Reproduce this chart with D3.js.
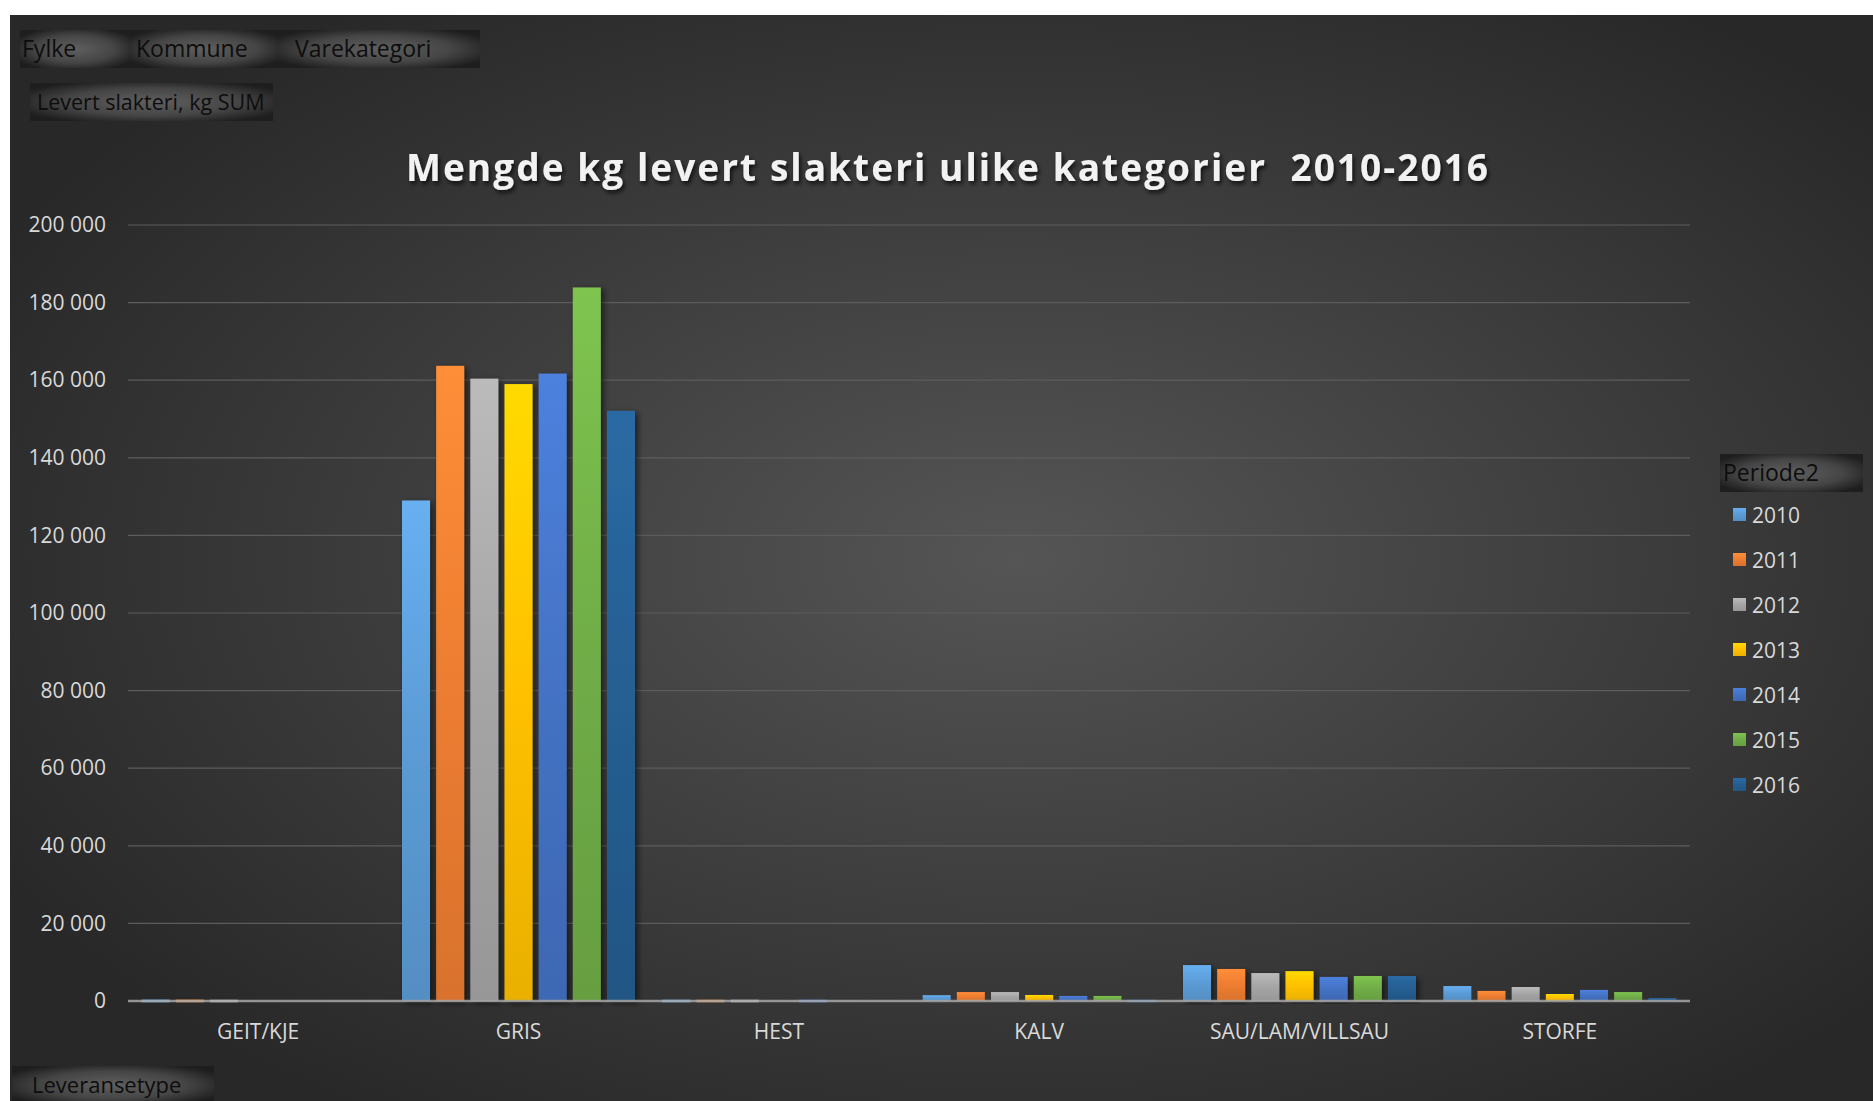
<!DOCTYPE html>
<html>
<head>
<meta charset="utf-8">
<script src="https://cdn.jsdelivr.net/npm/d3@7"></script>
<style>
  html, body { margin: 0; padding: 0; background: #fff; overflow: hidden; }
  svg { display: block; font-family: "Open Sans", "Liberation Sans", sans-serif; }
</style>
</head>
<body>
<div id="chart"></div>
<script>
// Chart data.
const categories = ["GEIT/KJE", "GRIS", "HEST", "KALV", "SAU/LAM/VILLSAU", "STORFE"];
const years = ["2010", "2011", "2012", "2013", "2014", "2015", "2016"];
const values2010 = [300, 129000, 250, 1500, 9250, 3850];
const values2011 = [300, 163700, 200, 2300, 8250, 2600];
const values2012 = [250, 160400, 150, 2300, 7200, 3600];
const values2013 = [0, 159000, 0, 1550, 7700, 1800];
const values2014 = [0, 161700, 150, 1300, 6200, 2850];
const values2015 = [0, 183900, 0, 1300, 6450, 2300];
const values2016 = [0, 152100, 0, 250, 6450, 750];
const yTicks = [0, 20000, 40000, 60000, 80000, 100000, 120000, 140000, 160000, 180000, 200000];

const seriesValues = [values2010, values2011, values2012, values2013, values2014, values2015, values2016];
const colors = ["#5B9BD5", "#ED7D31", "#A5A5A5", "#FFC000", "#4472C4", "#70AD47", "#255E91"];

// Dimensions.
const W = 1873, H = 1101;
const plot = { left: 128, right: 1690, top: 225, bottom: 1001 };

const svg = d3.select("#chart").append("svg")
  .attr("width", W)
  .attr("height", H);

const defs = svg.append("defs");

// Background gradient.
const bg = defs.append("radialGradient")
  .attr("id", "bg")
  .attr("cx", "0.54").attr("cy", "0.5").attr("r", "0.62");
bg.append("stop").attr("offset", "0").attr("stop-color", "#555555");
bg.append("stop").attr("offset", "1").attr("stop-color", "#282828");

// Button gradient: dark edges, lighter middle.
const btn = defs.append("radialGradient")
  .attr("id", "btn")
  .attr("cx", "0.5").attr("cy", "0.5").attr("r", "0.6");
btn.append("stop").attr("offset", "0").attr("stop-color", "#5f5f5f");
btn.append("stop").attr("offset", "0.6").attr("stop-color", "#454545");
btn.append("stop").attr("offset", "1").attr("stop-color", "#1e1e1e");

// Bar gradients, lighter on top.
colors.forEach((c, i) => {
  const g = defs.append("linearGradient")
    .attr("id", "bar" + i)
    .attr("x1", 0).attr("y1", 0).attr("x2", 0).attr("y2", 1);
  g.append("stop").attr("offset", "0").attr("stop-color", d3.color(c).brighter(0.35));
  g.append("stop").attr("offset", "0.5").attr("stop-color", c);
  g.append("stop").attr("offset", "1").attr("stop-color", d3.color(c).darker(0.25));
});

// Shadow for bars.
const shadow = defs.append("filter")
  .attr("id", "shadow")
  .attr("x", "-20%").attr("y", "-5%").attr("width", "160%").attr("height", "115%");
shadow.append("feDropShadow")
  .attr("dx", 3).attr("dy", 2).attr("stdDeviation", 3)
  .attr("flood-color", "#000").attr("flood-opacity", 0.55);

const titleShadow = defs.append("filter").attr("id", "tshadow");
titleShadow.append("feDropShadow")
  .attr("dx", 2).attr("dy", 3).attr("stdDeviation", 2)
  .attr("flood-color", "#000").attr("flood-opacity", 0.7);

svg.append("rect")
  .attr("x", 10).attr("y", 15)
  .attr("width", W - 10).attr("height", H - 15)
  .attr("fill", "url(#bg)");

// Scales.
const y = d3.scaleLinear().domain([0, 200000]).range([plot.bottom, plot.top]);
const x0 = d3.scaleBand().domain(categories).range([plot.left, plot.right]);
const groupW = x0.bandwidth() * 0.895;
const x1 = d3.scaleBand().domain(years).range([0, groupW]).paddingInner(0.18);

// Gridlines.
svg.append("g")
  .selectAll("line")
  .data(yTicks.filter(d => d > 0))
  .join("line")
  .attr("x1", plot.left).attr("x2", plot.right)
  .attr("y1", d => y(d)).attr("y2", d => y(d))
  .attr("stroke", "#5c5c5c")
  .attr("stroke-width", 1.2);

// Y axis labels.
const fmt = d => d3.format(",")(d).replace(/,/g, " ");
const yAxis = svg.append("g")
  .attr("transform", `translate(${plot.left},0)`)
  .call(d3.axisLeft(y).tickValues(yTicks).tickFormat(fmt).tickSize(0).tickPadding(22));
yAxis.select(".domain").remove();
yAxis.selectAll("text")
  .attr("fill", "#d9d9d9")
  .style("font-size", "21px")
  .style("font-family", "'Open Sans', sans-serif");

// Bars.
const groups = svg.append("g")
  .selectAll("g")
  .data(categories)
  .join("g")
  .attr("transform", d => `translate(${x0(d) + (x0.bandwidth() - groupW) / 2},0)`);

groups.selectAll("rect")
  .data((d, ci) => years.map((yr, si) => ({ yr, si, v: seriesValues[si][ci] })))
  .join("rect")
  .attr("x", d => x1(d.yr))
  .attr("width", x1.bandwidth())
  .attr("y", d => y(d.v))
  .attr("height", d => plot.bottom - y(d.v))
  .attr("fill", d => `url(#bar${d.si})`)
  .attr("filter", d => d.v > 5000 ? "url(#shadow)" : null);

// Baseline.
svg.append("line")
  .attr("x1", plot.left).attr("x2", plot.right)
  .attr("y1", plot.bottom).attr("y2", plot.bottom)
  .attr("stroke", "#a6a6a6")
  .attr("stroke-opacity", 0.85)
  .attr("stroke-width", 2.5);

// Tiny value marks on the baseline.
groups.selectAll("line.tiny")
  .data((d, ci) => years.map((yr, si) => ({ yr, si, v: seriesValues[si][ci] })).filter(d => d.v > 0 && d.v < 600))
  .join("line")
  .attr("class", "tiny")
  .attr("x1", d => x1(d.yr)).attr("x2", d => x1(d.yr) + x1.bandwidth())
  .attr("y1", plot.bottom).attr("y2", plot.bottom)
  .attr("stroke", d => d3.color(colors[d.si]).brighter(0.6))
  .attr("stroke-width", 2.5);

// X axis labels.
const xAxis = svg.append("g")
  .attr("transform", `translate(0,${plot.bottom})`)
  .call(d3.axisBottom(x0).tickSize(0).tickPadding(23));
xAxis.select(".domain").remove();
xAxis.selectAll("text")
  .attr("fill", "#d9d9d9")
  .style("font-size", "21px")
  .style("font-family", "'Open Sans', sans-serif");

// Title.
svg.append("text")
  .attr("x", 947).attr("y", 181)
  .attr("text-anchor", "middle")
  .attr("fill", "#f2f2f2")
  .attr("filter", "url(#tshadow)")
  .attr("xml:space", "preserve")
  .attr("textLength", 1082)
  .attr("lengthAdjust", "spacing")
  .style("white-space", "pre")
  .style("font-size", "37px")
  .style("font-weight", "bold")
  .style("font-family", "'Open Sans', sans-serif")
  .text("Mengde kg levert slakteri ulike kategorier  2010-2016");

// Field buttons.
const buttons = [
  { label: "Fylke", x: 20, y: 30, w: 110, h: 38, tx: 22, fs: 23 },
  { label: "Kommune", x: 130, y: 30, w: 148, h: 38, tx: 136, fs: 23 },
  { label: "Varekategori", x: 278, y: 30, w: 202, h: 38, tx: 295, fs: 23 },
  { label: "Levert slakteri, kg SUM", x: 30, y: 83, w: 243, h: 38, tx: 37, fs: 21.5 },
  { label: "Periode2", x: 1720, y: 454, w: 143, h: 38, tx: 1723, fs: 23 },
  { label: "Leveransetype", x: 12, y: 1066, w: 202, h: 38, tx: 32, fs: 22 }
];
const bg2 = svg.append("g").selectAll("g").data(buttons).join("g");
bg2.append("rect")
  .attr("x", d => d.x).attr("y", d => d.y)
  .attr("width", d => d.w).attr("height", d => d.h)
  .attr("fill", "url(#btn)");
bg2.append("text")
  .attr("x", d => d.tx).attr("y", d => d.y + d.h / 2 + 8)
  .attr("fill", "#0d0d0d")
  .style("font-size", d => d.fs + "px")
  .style("font-family", "'Open Sans', sans-serif")
  .text(d => d.label);

// Legend.
const legend = svg.append("g")
  .selectAll("g")
  .data(years)
  .join("g")
  .attr("transform", (d, i) => `translate(1733,${515 + i * 45})`);
legend.append("rect")
  .attr("x", 0).attr("y", -7)
  .attr("width", 13).attr("height", 13)
  .attr("fill", (d, i) => `url(#bar${i})`);
legend.append("text")
  .attr("x", 19).attr("y", 8)
  .attr("fill", "#d9d9d9")
  .style("font-size", "21px")
  .style("font-family", "'Open Sans', sans-serif")
  .text(d => d);
</script>
</body>
</html>
